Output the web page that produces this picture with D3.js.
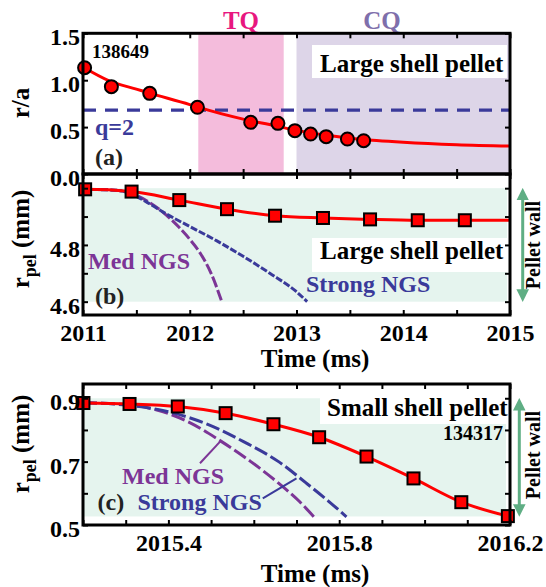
<!DOCTYPE html>
<html>
<head>
<meta charset="utf-8">
<script src="https://cdn.jsdelivr.net/npm/d3@7/dist/d3.min.js"></script>
<style>
  body { margin: 0; background: #fff; }
  text { font-family: "Liberation Serif", "Times New Roman", serif; font-weight: bold; }
</style>
</head>
<body>
<div id="chart"></div>
<script>
// ---- data ----
// panel (a): pellet position r/a, shot 138649
const timeA = [2011.015, 2011.266, 2011.625, 2012.072, 2012.571, 2012.826, 2012.985, 2013.132, 2013.278, 2013.477, 2013.629];
const rA    = [1.133, 0.931, 0.860, 0.711, 0.551, 0.540, 0.462, 0.426, 0.398, 0.373, 0.355];
const fitTimeA = [2011.0, 2011.25, 2011.5, 2011.625, 2012.0, 2012.07, 2012.5, 2012.8, 2013.0, 2013.25, 2013.5, 2013.75, 2014.0, 2014.5, 2015.0];
const fitA     = [1.14, 0.99, 0.905, 0.862, 0.74, 0.715, 0.585, 0.515, 0.465, 0.418, 0.382, 0.357, 0.338, 0.312, 0.298];
const q2 = 0.68;
const tqBand = [2012.08, 2012.88];
const cqBand = [2013.0, 2015.0];

// panel (b): large shell pellet radius
const timeB = [2011.02, 2011.455, 2011.902, 2012.349, 2012.799, 2013.248, 2013.689, 2014.136, 2014.577];
const rB    = [4.996, 4.988, 4.958, 4.926, 4.903, 4.895, 4.890, 4.887, 4.887];
const fitTimeB = [2011.0, 2011.02, 2011.455, 2011.902, 2012.349, 2012.799, 2013.248, 2013.689, 2014.136, 2014.577, 2015.0];
const fitB     = [4.996, 4.996, 4.988, 4.958, 4.926, 4.903, 4.895, 4.890, 4.887, 4.887, 4.887];
const medTimeB = [2011.0, 2011.3, 2011.45, 2011.6, 2011.75, 2011.9, 2012.0, 2012.1, 2012.2, 2012.3];
const medB     = [4.996, 4.993, 4.982, 4.955, 4.915, 4.862, 4.82, 4.77, 4.70, 4.60];
const strongTimeB = [2011.0, 2011.3, 2011.45, 2011.6, 2011.8, 2012.0, 2012.25, 2012.5, 2012.75, 2013.0, 2013.1];
const strongB     = [4.996, 4.993, 4.98, 4.95, 4.905, 4.865, 4.815, 4.76, 4.70, 4.635, 4.60];
const wallB = [4.6, 5.0];

// panel (c): small shell pellet radius, shot 134317
const timeC = [2015.201, 2015.309, 2015.422, 2015.534, 2015.646, 2015.753, 2015.864, 2015.974, 2016.086, 2016.195];
const rC    = [0.885, 0.882, 0.874, 0.853, 0.818, 0.777, 0.716, 0.647, 0.572, 0.528];
const medTimeC = [2015.2, 2015.307, 2015.373, 2015.446, 2015.519, 2015.593, 2015.658, 2015.707, 2015.742];
const medC     = [0.886, 0.879, 0.863, 0.826, 0.768, 0.700, 0.632, 0.574, 0.524];
const strongTimeC = [2015.2, 2015.332, 2015.413, 2015.495, 2015.576, 2015.658, 2015.723, 2015.776, 2015.817];
const strongC     = [0.886, 0.874, 0.853, 0.816, 0.763, 0.700, 0.632, 0.574, 0.526];
const medPointerC = [[2015.474, 0.695], [2015.521, 0.763]];
const strongPointerC = [[2015.621, 0.584], [2015.700, 0.647]];
const wallC = [0.527, 0.9];

// ticks
const xTicksAB = [2011, 2011.5, 2012, 2012.5, 2013, 2013.5, 2014, 2014.5, 2015];
const xLabelsB = [2011, 2012, 2013, 2014, 2015];
const yTicksA = [0, 0.5, 1.0, 1.5];
const yTicksB = [4.6, 4.7, 4.8, 4.9, 5.0];
const yLabelsB = [4.6, 4.8];
const xTicksC = [2015.2, 2015.3, 2015.4, 2015.5, 2015.6, 2015.7, 2015.8, 2015.9, 2016.0, 2016.1, 2016.2];
const xLabelsC = [2015.4, 2015.8, 2016.2];
const yTicksC = [0.5, 0.6, 0.7, 0.8, 0.9];
const yLabelsC = [0.5, 0.7, 0.9];

// ---- layout ----
const W = 546, H = 587;
const L = 83, R = 510;
const RED = "#ff0000", NAVY = "#3a3a9a", PURPLE = "#7c3596", GREEN = "#5fae84";

const svg = d3.select("#chart").append("svg")
    .attr("width", W)
    .attr("height", H);

const defs = svg.append("defs");
["start", "end"].forEach(k => {
  defs.append("marker")
      .attr("id", "arr-" + k)
      .attr("viewBox", "0 0 10 10")
      .attr("refX", 5).attr("refY", 5)
      .attr("markerWidth", 4.2).attr("markerHeight", 4.2)
      .attr("markerUnits", "strokeWidth")
      .attr("orient", k === "start" ? "auto-start-reverse" : "auto")
    .append("path")
      .attr("d", "M0,0L10,5L0,10Z")
      .attr("fill", GREEN);
});

const xAB = d3.scaleLinear().domain([2011, 2015]).range([L, R]);
const xC = d3.scaleLinear().domain([2015.2, 2016.2]).range([L, R]);
const yA = d3.scaleLinear().domain([0, 1.5]).range([174, 33.3]);
const yB = d3.scaleLinear().domain([4.553, 5.05]).range([315, 174]);
const yC = d3.scaleLinear().domain([0.5, 0.945]).range([525, 384]);

const has = (list, d) => list.some(v => Math.abs(v - d) < 1e-6);

function axes(g, x, y, xt, xl, xfmt, yt, yl, yfmt) {
  const [y0, y1] = y.range();
  const [x0, x1] = x.range();
  const bottom = g.append("g").attr("transform", `translate(0,${y0})`)
      .call(d3.axisBottom(x).tickValues(xt).tickSize(-5).tickPadding(9)
        .tickFormat(d => has(xl, d) ? xfmt(d) : ""));
  const top = g.append("g").attr("transform", `translate(0,${y1})`)
      .call(d3.axisTop(x).tickValues(xt).tickSize(-5).tickFormat(""));
  const left = g.append("g").attr("transform", `translate(${x0},0)`)
      .call(d3.axisLeft(y).tickValues(yt).tickSize(-5).tickPadding(3)
        .tickFormat(d => has(yl, d) ? yfmt(d) : ""));
  const right = g.append("g").attr("transform", `translate(${x1},0)`)
      .call(d3.axisRight(y).tickValues(yt).tickSize(-5).tickFormat(""));
  [bottom, top, left, right].forEach(a => {
    a.select(".domain").remove();
    a.selectAll(".tick line").attr("stroke", "#000").attr("stroke-width", 2);
    a.selectAll("text").attr("font-size", 24).attr("fill", "#000")
      .attr("font-family", "Liberation Serif, serif").attr("font-weight", "bold");
  });
  left.selectAll("text").attr("dy", "0.48em");
  g.append("rect")
      .attr("x", x0).attr("y", y1)
      .attr("width", x1 - x0).attr("height", y0 - y1)
      .attr("fill", "none").attr("stroke", "#000").attr("stroke-width", 3);
}

function curve(g, x, y, ts, vs, color, width, dash) {
  const line = d3.line().x(d => x(d[0])).y(d => y(d[1])).curve(d3.curveMonotoneX);
  g.append("path")
      .datum(ts.map((t, i) => [t, vs[i]]))
      .attr("d", line)
      .attr("fill", "none")
      .attr("stroke", color)
      .attr("stroke-width", width)
      .attr("stroke-dasharray", dash || null);
}

function label(g, txt, x, y, size, color, anchor) {
  return g.append("text")
      .attr("x", x).attr("y", y)
      .attr("font-size", size)
      .attr("fill", color || "#000")
      .attr("text-anchor", anchor || "start")
      .text(txt);
}

function rpelLabel(cy) {
  const t = svg.append("text")
      .attr("transform", `translate(22,${cy}) rotate(-90)`)
      .attr("y", 7)
      .attr("text-anchor", "middle")
      .attr("font-size", 25);
  t.append("tspan").text("r");
  t.append("tspan").attr("font-size", 18).attr("dy", 7).text("pel");
  t.append("tspan").attr("dy", -7).text(" (mm)");
}

function pelletWall(x, yTop, yBot, cy) {
  svg.append("line")
      .attr("x1", x).attr("x2", x)
      .attr("y1", yTop + 6).attr("y2", yBot - 6)
      .attr("stroke", GREEN).attr("stroke-width", 3)
      .attr("marker-start", "url(#arr-start)")
      .attr("marker-end", "url(#arr-end)");
  svg.append("text")
      .attr("transform", `translate(540,${cy}) rotate(-90)`)
      .attr("text-anchor", "middle")
      .attr("font-size", 20)
      .text("Pellet wall");
}

// ---- panel (a) ----
const ga = svg.append("g");
ga.append("rect")
    .attr("x", xAB(tqBand[0])).attr("y", yA(1.5))
    .attr("width", xAB(tqBand[1]) - xAB(tqBand[0])).attr("height", yA(0) - yA(1.5))
    .attr("fill", "#f4bcdc");
ga.append("rect")
    .attr("x", xAB(cqBand[0])).attr("y", yA(1.5))
    .attr("width", xAB(cqBand[1]) - xAB(cqBand[0])).attr("height", yA(0) - yA(1.5))
    .attr("fill", "#ddd5e8");
label(ga, "TQ", xAB((tqBand[0] + tqBand[1]) / 2), 29, 25, "#e8177f", "middle");
label(ga, "CQ", xAB(2013.8), 29, 25, "#7f6fab", "middle");
ga.append("rect").attr("x", 312).attr("y", 45).attr("width", 195).attr("height", 33).attr("fill", "#fff");
label(ga, "Large shell pellet", 320, 72, 25);

ga.append("line")
    .attr("x1", xAB(2011)).attr("x2", xAB(2015))
    .attr("y1", yA(q2)).attr("y2", yA(q2))
    .attr("stroke", NAVY).attr("stroke-width", 3.2).attr("stroke-dasharray", "13,9");
curve(ga, xAB, yA, fitTimeA, fitA, RED, 3);
ga.selectAll("circle.pt").data(timeA.map((t, i) => [t, rA[i]])).join("circle")
    .attr("class", "pt")
    .attr("cx", d => xAB(d[0])).attr("cy", d => yA(d[1]))
    .attr("r", 6.5)
    .attr("fill", RED).attr("stroke", "#000").attr("stroke-width", 2);
axes(ga, xAB, yA, xTicksAB, [], d3.format("d"), yTicksA, yTicksA, d3.format(".1f"));
label(ga, "138649", 92, 58, 19);
label(ga, "q=2", 95, 135, 24, NAVY);
label(ga, "(a)", 95, 165, 24, "#222");
svg.append("text")
    .attr("transform", "translate(22,103) rotate(-90)")
    .attr("y", 7)
    .attr("text-anchor", "middle")
    .attr("font-size", 25)
    .text("r/a");

// ---- panel (b) ----
const gb = svg.append("g");
gb.append("rect")
    .attr("x", L).attr("y", yB(wallB[1]))
    .attr("width", 424).attr("height", yB(wallB[0]) - yB(wallB[1]))
    .attr("fill", "#e5f4ee");
gb.append("rect").attr("x", 312).attr("y", 238).attr("width", 195).attr("height", 34).attr("fill", "#fff");
label(gb, "Large shell pellet", 320, 258.5, 25);
curve(gb, xAB, yB, medTimeB, medB, PURPLE, 3, "11,3");
curve(gb, xAB, yB, strongTimeB, strongB, NAVY, 3, "7,2");
curve(gb, xAB, yB, fitTimeB, fitB, RED, 3);
gb.selectAll("rect.pt").data(timeB.map((t, i) => [t, rB[i]])).join("rect")
    .attr("class", "pt")
    .attr("x", d => xAB(d[0]) - 6).attr("y", d => yB(d[1]) - 6)
    .attr("width", 12).attr("height", 12)
    .attr("fill", RED).attr("stroke", "#000").attr("stroke-width", 2);
axes(gb, xAB, yB, xTicksAB, xLabelsB, d3.format("d"), yTicksB, yLabelsB, d3.format(".1f"));
label(gb, "Med NGS", 88, 268.5, 24, PURPLE);
label(gb, "Strong NGS", 306, 292, 24, NAVY);
label(gb, "(b)", 95, 303.5, 24, "#222");
label(gb, "Time (ms)", 315, 366.5, 25, "#000", "middle");
rpelLabel(239);
pelletWall(522.7, yB(wallB[1]), yB(wallB[0]), 245);

// ---- panel (c) ----
const gc = svg.append("g");
gc.append("rect")
    .attr("x", L).attr("y", yC(wallC[1]))
    .attr("width", 423).attr("height", yC(wallC[0]) - yC(wallC[1]))
    .attr("fill", "#e5f4ee");
gc.append("rect").attr("x", 320).attr("y", 391).attr("width", 187).attr("height", 33).attr("fill", "#fff");
label(gc, "Small shell pellet", 327, 415.5, 25);
label(gc, "134317", 503, 439.5, 20, "#000", "end");
curve(gc, xC, yC, medTimeC, medC, PURPLE, 3, "14,4");
curve(gc, xC, yC, strongTimeC, strongC, NAVY, 3, "14,4");
curve(gc, xC, yC, timeC, rC, RED, 3);
[[medPointerC, PURPLE], [strongPointerC, NAVY]].forEach(([p, c]) => {
  gc.append("line")
      .attr("x1", xC(p[0][0])).attr("y1", yC(p[0][1]))
      .attr("x2", xC(p[1][0])).attr("y2", yC(p[1][1]))
      .attr("stroke", c).attr("stroke-width", 2);
});
gc.selectAll("rect.pt").data(timeC.map((t, i) => [t, rC[i]])).join("rect")
    .attr("class", "pt")
    .attr("x", d => xC(d[0]) - 6).attr("y", d => yC(d[1]) - 6)
    .attr("width", 12).attr("height", 12)
    .attr("fill", RED).attr("stroke", "#000").attr("stroke-width", 2);
axes(gc, xC, yC, xTicksC, xLabelsC, d3.format(".1f"), yTicksC, yLabelsC, d3.format(".1f"));
label(gc, "Med NGS", 122, 483.5, 24, PURPLE);
label(gc, "Strong NGS", 137.5, 510, 24, NAVY);
label(gc, "(c)", 97.5, 510, 24, "#222");
label(gc, "Time (ms)", 315, 581.5, 25, "#000", "middle");
rpelLabel(444);
pelletWall(519.3, yC(wallC[1]), yC(wallC[0]), 455);
</script>
</body>
</html>
